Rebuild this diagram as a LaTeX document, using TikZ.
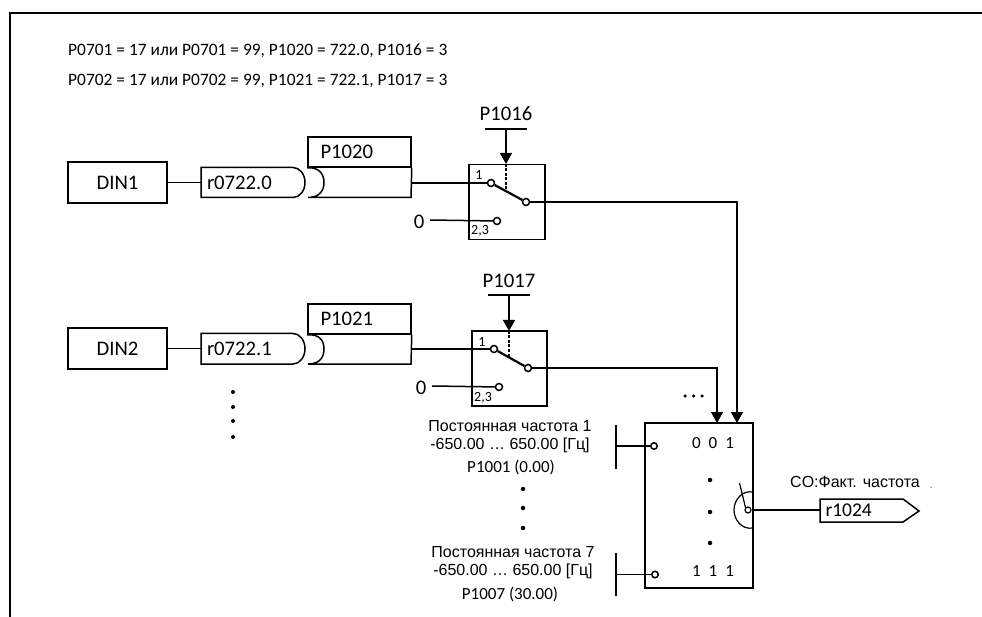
\documentclass[tikz,border=0pt]{standalone}
\usepackage{fontspec}
\setmainfont{Carlito}
\newfontfamily\arl{Liberation Sans}
\usetikzlibrary{arrows.meta}
\tikzset{
  ln/.style={line width=1.5pt,draw=black},
  thin ln/.style={line width=1.2pt,draw=black},
  hdr/.style={inner sep=0pt,font=\fontsize{17.4}{19}\selectfont},
  lbl/.style={inner sep=0pt,font=\fontsize{20.7}{22}\selectfont},
  val/.style={inner sep=0pt,font=\fontsize{17}{19}\selectfont},
  small/.style={inner sep=0pt,font=\fontsize{14}{15}\selectfont},
  arial/.style={inner sep=0pt,font=\arl\fontsize{16}{18}\selectfont},
  boxn/.style={draw=black,line width=1.5pt,minimum width=#1,inner sep=0pt},
  pin/.style={circle,draw=black,fill=white,line width=1.5pt,minimum size=7pt,inner sep=0pt},
  dotn/.style={circle,fill=black,minimum size=#1,inner sep=0pt},
  tip/.style={-{Triangle[length=11pt,width=12pt]}}
}
\begin{document}
\begin{tikzpicture}[x=1pt,y=-1pt]
\useasboundingbox (0,0) rectangle (982,617);
% frame
\coordinate (fa) at (982,13);\coordinate (fb) at (10,13);\coordinate (fc) at (10,617);
\draw[line width=1.7pt,line join=miter] (fa)--(fb)--(fc);
% header
\node[hdr,anchor=west] (h1) at (68,51) {P0701 = 17 или P0701 = 99, P1020 = 722.0, P1016 = 3};
\node[hdr,anchor=west] (h2) at (68,81) {P0702 = 17 или P0702 = 99, P1021 = 722.1, P1017 = 3};
% row 1
\node[boxn=99pt,minimum height=41pt,lbl] (din1) at (117.5,182.5) {DIN1};
\node[minimum height=30pt,lbl,text width=92pt,align=left] (r1) at (253,182.5) {r0722.0};
\draw[ln] (293,167.5) -- (201,167.5) -- (201,197.5) -- (293,197.5) arc[start angle=90,end angle=-90,x radius=12pt,y radius=-15pt];
\node[boxn=103pt,minimum height=30pt,lbl,text width=78pt,align=left] (p1) at (359.5,152) {P1020};
\coordinate (p1o) at (411,183);
\draw[ln] (p1.south east) -- (411,197.5) -- (308,197.5) .. controls (320,197.5) and (324,190) .. (324,182.5) .. controls (324,175) and (320,167) .. (p1.south west);
\draw[ln] (din1.east) -- (201,182.5);
\node[boxn=76pt,minimum height=75pt] (s1) at (507,202) {};
\node[pin] (s1a) at (491,183) {};
\node[pin] (s1o) at (526,202) {};
\node[pin] (s1z) at (497,221) {};
\draw[ln] (p1o) -- (s1a);
\draw[line width=2.2pt] (s1a) -- (s1o);
\coordinate (s1top) at (506,164);\coordinate (s1mid) at (506,192);
\draw[line width=2.2pt,dash pattern=on 3pt off 1.5pt] (s1top) -- (s1mid);
\coordinate (b1l) at (485,129);\coordinate (b1r) at (527,129);\coordinate (b1m) at (506,129);
\draw[ln] (b1l) -- (b1r);
\draw[ln,tip] (b1m) -- (s1top);
\node[lbl] (t1016) at (506,114) {P1016};
\node[lbl] (z1) at (419,222) {0};
\coordinate (z1s) at (430,220);
\draw[ln] (z1s) -- (s1z);
\node[small] (s1t1) at (479,175) {1};
\node[small] (s1t2) at (480,231) {2,3};
% row 2
\node[boxn=99pt,minimum height=41pt,lbl] (din2) at (117.5,348.5) {DIN2};
\node[minimum height=30pt,lbl,text width=92pt,align=left] (r2) at (253,349) {r0722.1};
\draw[ln] (293,333.5) -- (201,333.5) -- (201,364) -- (293,364) arc[start angle=90,end angle=-90,x radius=12pt,y radius=-15.25pt];
\node[boxn=103pt,minimum height=30pt,lbl,text width=78pt,align=left] (p2) at (359.5,319) {P1021};
\coordinate (p2o) at (411,349);
\draw[ln] (p2.south east) -- (411,364) -- (308,364) .. controls (320,364) and (324,357) .. (324,349) .. controls (324,341) and (320,334) .. (p2.south west);
\draw[ln] (din2.east) -- (201,348.5);
\node[boxn=75pt,minimum height=75pt] (s2) at (509.5,368.5) {};
\node[pin] (s2a) at (494,349) {};
\node[pin] (s2o) at (528,368) {};
\node[pin] (s2z) at (499,387) {};
\draw[ln] (p2o) -- (s2a);
\draw[line width=2.2pt] (s2a) -- (s2o);
\coordinate (s2top) at (509,331);\coordinate (s2mid) at (509,358);
\draw[line width=2.2pt,dash pattern=on 3pt off 1.5pt] (s2top) -- (s2mid);
\coordinate (b2l) at (488,295);\coordinate (b2r) at (530,295);\coordinate (b2m) at (509,295);
\draw[ln] (b2l) -- (b2r);
\draw[ln,tip] (b2m) -- (s2top);
\node[lbl] (t1017) at (509,281) {P1017};
\node[lbl] (z2) at (421,388) {0};
\coordinate (z2s) at (432,386);
\draw[ln] (z2s) -- (s2z);
\node[small] (s2t1) at (482,342) {1};
\node[small] (s2t2) at (483,398) {2,3};
% left dots
\foreach \y/\n in {392/a,407/b,421/c,437/d}{\node[dotn=4pt] (ld\n) at (233,\y) {};}
% selector
\node[boxn=108pt,minimum height=165pt] (sel) at (699,505.5) {};
\coordinate (in1) at (717,423);\coordinate (in2) at (737,423);
\coordinate (c1) at (717,368);\coordinate (c2) at (737,202);
\draw[ln,tip] (s2o) -- (c1) -- (in1);
\draw[ln,tip] (s1o) -- (c2) -- (in2);
\foreach \x/\n in {685/a,693.5/b,702/c}{\node[dotn=3.5pt] (tr\n) at (\x,396) {};}
% inputs
\coordinate (ba1) at (616,425);\coordinate (ba2) at (616,469);\coordinate (bam) at (616,446);
\draw[ln] (ba1) -- (ba2);
\node[pin,minimum size=6.5pt] (c01) at (654,446) {};
\draw[ln] (bam) -- (c01);
\coordinate (bb1) at (616,553);\coordinate (bb2) at (616,596);\coordinate (bbm) at (616,574.5);
\draw[ln] (bb1) -- (bb2);
\node[pin,minimum size=6.5pt] (c07) at (655,574.5) {};
\draw[ln] (bbm) -- (c07);
\node[arial] (q1) at (510,426) {Постоянная частота 1};
\node[arial] (q2) at (510,445) {-650.00 … 650.00 [Гц]};
\node[val] (q3) at (511,467) {P1001 (0.00)};
\foreach \y/\n in {489/a,508/b,528/c}{\node[dotn=4.5pt] (md\n) at (523,\y) {};}
\node[arial] (w1) at (513,552) {Постоянная частота 7};
\node[arial] (w2) at (513,571) {-650.00 … 650.00 [Гц]};
\node[val] (w3) at (510,594) {P1007 (30.00)};
% selector content
\node[val] (n1) at (713,443) {0\hspace{8pt}0\hspace{8pt}1};
\node[val] (n2) at (713,571) {1\hspace{8pt}1\hspace{8pt}1};
\foreach \y/\n in {480/a,512/b,543/c}{\node[dotn=4.5pt] (sd\n) at (710,\y) {};}
\coordinate (ar1) at (753,492);\coordinate (ar2) at (753,528);
\draw[thin ln] (ar1) .. controls (742,490) and (734,500) .. (734,510) .. controls (734,520) and (742,530) .. (ar2);
\node[circle,draw=black,line width=1.2pt,minimum size=6pt,inner sep=0pt] (wc) at (748,510) {};
\coordinate (wt) at (739.5,483);
\draw[thin ln] (wt) -- (wc.north west);
% output
\node[minimum height=23pt,inner sep=0pt,font=\fontsize{19.5}{21}\selectfont,text width=72pt,align=left] (r1024) at (861.5,510.5) {r1024};
\draw[ln] (820,499) -- (903,499) -- (919,511) -- (903,522) -- (820,522) -- cycle;
\draw[ln] (wc.east) -- (820,510);
\node[arial,anchor=west] (co) at (790,482) {CO:Факт. частота};
\node[dotn=1pt] (sp) at (931,487.5) {};
\end{tikzpicture}
\end{document}
